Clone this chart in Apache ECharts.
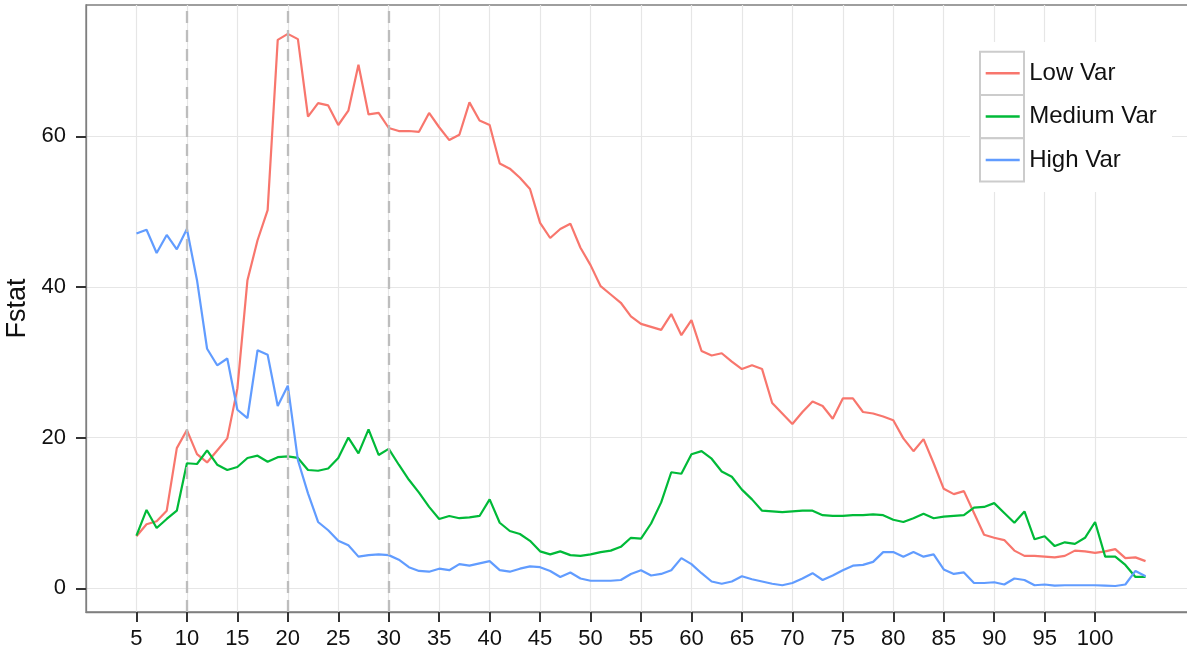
<!DOCTYPE html>
<html>
<head>
<meta charset="utf-8">
<script src="https://cdn.jsdelivr.net/npm/echarts@6/dist/echarts.min.js"></script>
<style>
html,body{margin:0;padding:0;background:#fff;}
#chart{width:1187px;height:653px;}
</style>
</head>
<body>
<div id="chart"></div>
<script>
const windowSizes = [5,6,7,8,9,10,11,12,13,14,15,16,17,18,19,20,21,22,23,24,25,26,27,28,29,30,31,32,33,34,35,36,37,38,39,40,41,42,43,44,45,46,47,48,49,50,51,52,53,54,55,56,57,58,59,60,61,62,63,64,65,66,67,68,69,70,71,72,73,74,75,76,77,78,79,80,81,82,83,84,85,86,87,88,89,90,91,92,93,94,95,96,97,98,99,100,101,102,103,104,105];

const lowVar = [6.9,8.5,8.9,10.3,18.6,21.0,17.8,16.7,18.3,19.9,26.5,40.9,46.2,50.2,72.8,73.6,72.9,62.6,64.4,64.1,61.5,63.4,69.5,62.9,63.1,61.1,60.7,60.7,60.6,63.1,61.2,59.5,60.2,64.5,62.1,61.5,56.4,55.7,54.5,53.0,48.5,46.5,47.7,48.4,45.2,42.9,40.1,39.0,37.9,36.1,35.1,34.7,34.3,36.4,33.6,35.6,31.5,30.9,31.2,30.1,29.1,29.6,29.1,24.6,23.2,21.8,23.4,24.8,24.2,22.5,25.2,25.2,23.4,23.2,22.8,22.3,19.9,18.2,19.8,16.6,13.2,12.5,12.9,10.0,7.1,6.7,6.4,5.0,4.3,4.3,4.2,4.1,4.3,5.0,4.9,4.7,4.9,5.2,4.0,4.1,3.6];

const mediumVar = [7.0,10.4,8.0,9.2,10.3,16.6,16.5,18.3,16.4,15.7,16.1,17.3,17.6,16.8,17.4,17.5,17.3,15.7,15.6,15.9,17.3,20.0,17.9,21.1,17.7,18.5,16.4,14.4,12.7,10.8,9.2,9.6,9.3,9.4,9.6,11.8,8.7,7.6,7.2,6.3,4.9,4.5,4.9,4.4,4.3,4.5,4.8,5.0,5.5,6.7,6.6,8.6,11.4,15.4,15.2,17.8,18.2,17.2,15.5,14.8,13.1,11.8,10.3,10.2,10.1,10.2,10.3,10.3,9.7,9.6,9.6,9.7,9.7,9.8,9.7,9.1,8.8,9.3,9.9,9.3,9.5,9.6,9.7,10.7,10.8,11.3,10.0,8.7,10.2,6.5,6.9,5.6,6.1,5.9,6.7,8.8,4.2,4.2,3.1,1.5,1.5];

const highVar = [47.1,47.6,44.5,46.9,45.0,47.7,40.9,31.8,29.6,30.5,23.7,22.6,31.6,31.0,24.2,26.9,17.0,12.6,8.8,7.7,6.3,5.7,4.2,4.4,4.5,4.4,3.8,2.8,2.3,2.2,2.6,2.4,3.2,3.0,3.3,3.6,2.4,2.2,2.6,2.9,2.8,2.3,1.5,2.1,1.3,1.0,1.0,1.0,1.1,1.9,2.4,1.7,1.9,2.4,4.0,3.2,2.0,0.9,0.6,0.9,1.6,1.2,0.9,0.6,0.4,0.7,1.3,2.0,1.1,1.7,2.4,3.0,3.1,3.5,4.8,4.8,4.2,4.8,4.2,4.5,2.5,1.9,2.1,0.7,0.7,0.8,0.5,1.3,1.1,0.4,0.5,0.35,0.4,0.4,0.4,0.4,0.35,0.3,0.5,2.3,1.6];

const seriesNames = ['Low Var', 'Medium Var', 'High Var'];
const seriesColors = ['#F8766D', '#00BA38', '#619CFF'];
const xTickValues = [5,10,15,20,25,30,35,40,45,50,55,60,65,70,75,80,85,90,95,100];
const yTickValues = [0,20,40,60];
const markerXs = [10,20,30];
const yAxisTitle = 'Fstat';

const FONT = "'Liberation Sans', Arial, Helvetica, sans-serif";

function pairs(vals){ return windowSizes.map((x,i)=>[x, vals[i]]); }
const allValues = [lowVar, mediumVar, highVar];

const chart = echarts.init(document.getElementById('chart'), null, {renderer:'canvas'});

const series = seriesNames.map((name, k) => {
  const s = {
    name: name,
    type: 'line',
    data: pairs(allValues[k]),
    showSymbol: false,
    symbol: 'none',
    color: seriesColors[k],
    lineStyle: {color: seriesColors[k], width: 2.2},
    silent: true,
    z: 3
  };
  if (k === 0) {
    s.markLine = {
      silent: true,
      symbol: ['none','none'],
      label: {show: false},
      lineStyle: {type: [12, 7], color: '#bdbdbd', width: 2.3},
      emphasis: {disabled: true},
      data: markerXs.map(v => ({xAxis: v}))
    };
  }
  return s;
});

const option = {
  animation: false,
  backgroundColor: '#ffffff',
  textStyle: {fontFamily: FONT},
  grid: {
    left: 86, top: 5, width: 1110, height: 607,
    containLabel: false,
    outerBoundsMode: 'none',
    show: true, borderColor: '#7f7f7f', borderWidth: 1.3, backgroundColor: 'transparent'
  },
  xAxis: {
    type: 'value',
    min: 0, max: 110,
    axisLine: {show: true, onZero: false, lineStyle: {color: '#7f7f7f', width: 1.3}},
    axisTick: {show: true, inside: false, customValues: xTickValues, length: 10, lineStyle: {color: '#333333', width: 2}},
    axisLabel: {customValues: xTickValues, fontSize: 22, color: '#111', margin: 16, fontFamily: FONT, showMinLabel: true, showMaxLabel: true},
    splitLine: {show: true, lineStyle: {color: '#e6e6e6', width: 1.2}}
  },
  yAxis: {
    type: 'value',
    min: -3.15, max: 77.43,
    name: yAxisTitle,
    nameLocation: 'middle',
    nameGap: 43,
    nameTextStyle: {fontSize: 27, color: '#111', fontFamily: FONT},
    axisLine: {show: true, onZero: false, lineStyle: {color: '#7f7f7f', width: 1.3}},
    axisTick: {show: true, inside: false, alignWithLabel: true, length: 10, lineStyle: {color: '#333333', width: 2}, customValues: yTickValues},
    axisLabel: {customValues: yTickValues, fontSize: 22, color: '#111', margin: 20, fontFamily: FONT, showMinLabel: true, showMaxLabel: true},
    splitLine: {show: true, lineStyle: {color: '#e6e6e6', width: 1.2}}
  },
  legend: {
    data: seriesNames,
    orient: 'vertical',
    left: 985.7,
    top: 51.65,
    padding: 0,
    itemGap: 0,
    itemWidth: 34,
    itemHeight: 2.5,
    icon: 'rect',
    selectedMode: false,
    z: 20,
    textStyle: {fontSize: 24, color: '#111', lineHeight: 43.3, padding: [0,0,0,4.5], fontFamily: FONT}
  },
  graphic: [
    {type: 'rect', z: 10, silent: true, shape: {x: 970, y: 42, width: 202, height: 150}, style: {fill: '#ffffff', stroke: null}},
    {type: 'rect', z: 11, silent: true, shape: {x: 980, y: 51.7, width: 44, height: 43.3}, style: {fill: '#ffffff', stroke: '#cccccc', lineWidth: 2}},
    {type: 'rect', z: 11, silent: true, shape: {x: 980, y: 95.0, width: 44, height: 43.3}, style: {fill: '#ffffff', stroke: '#cccccc', lineWidth: 2}},
    {type: 'rect', z: 11, silent: true, shape: {x: 980, y: 138.3, width: 44, height: 43.3}, style: {fill: '#ffffff', stroke: '#cccccc', lineWidth: 2}}
  ],
  series: series
};

chart.setOption(option);
</script>
</body>
</html>
